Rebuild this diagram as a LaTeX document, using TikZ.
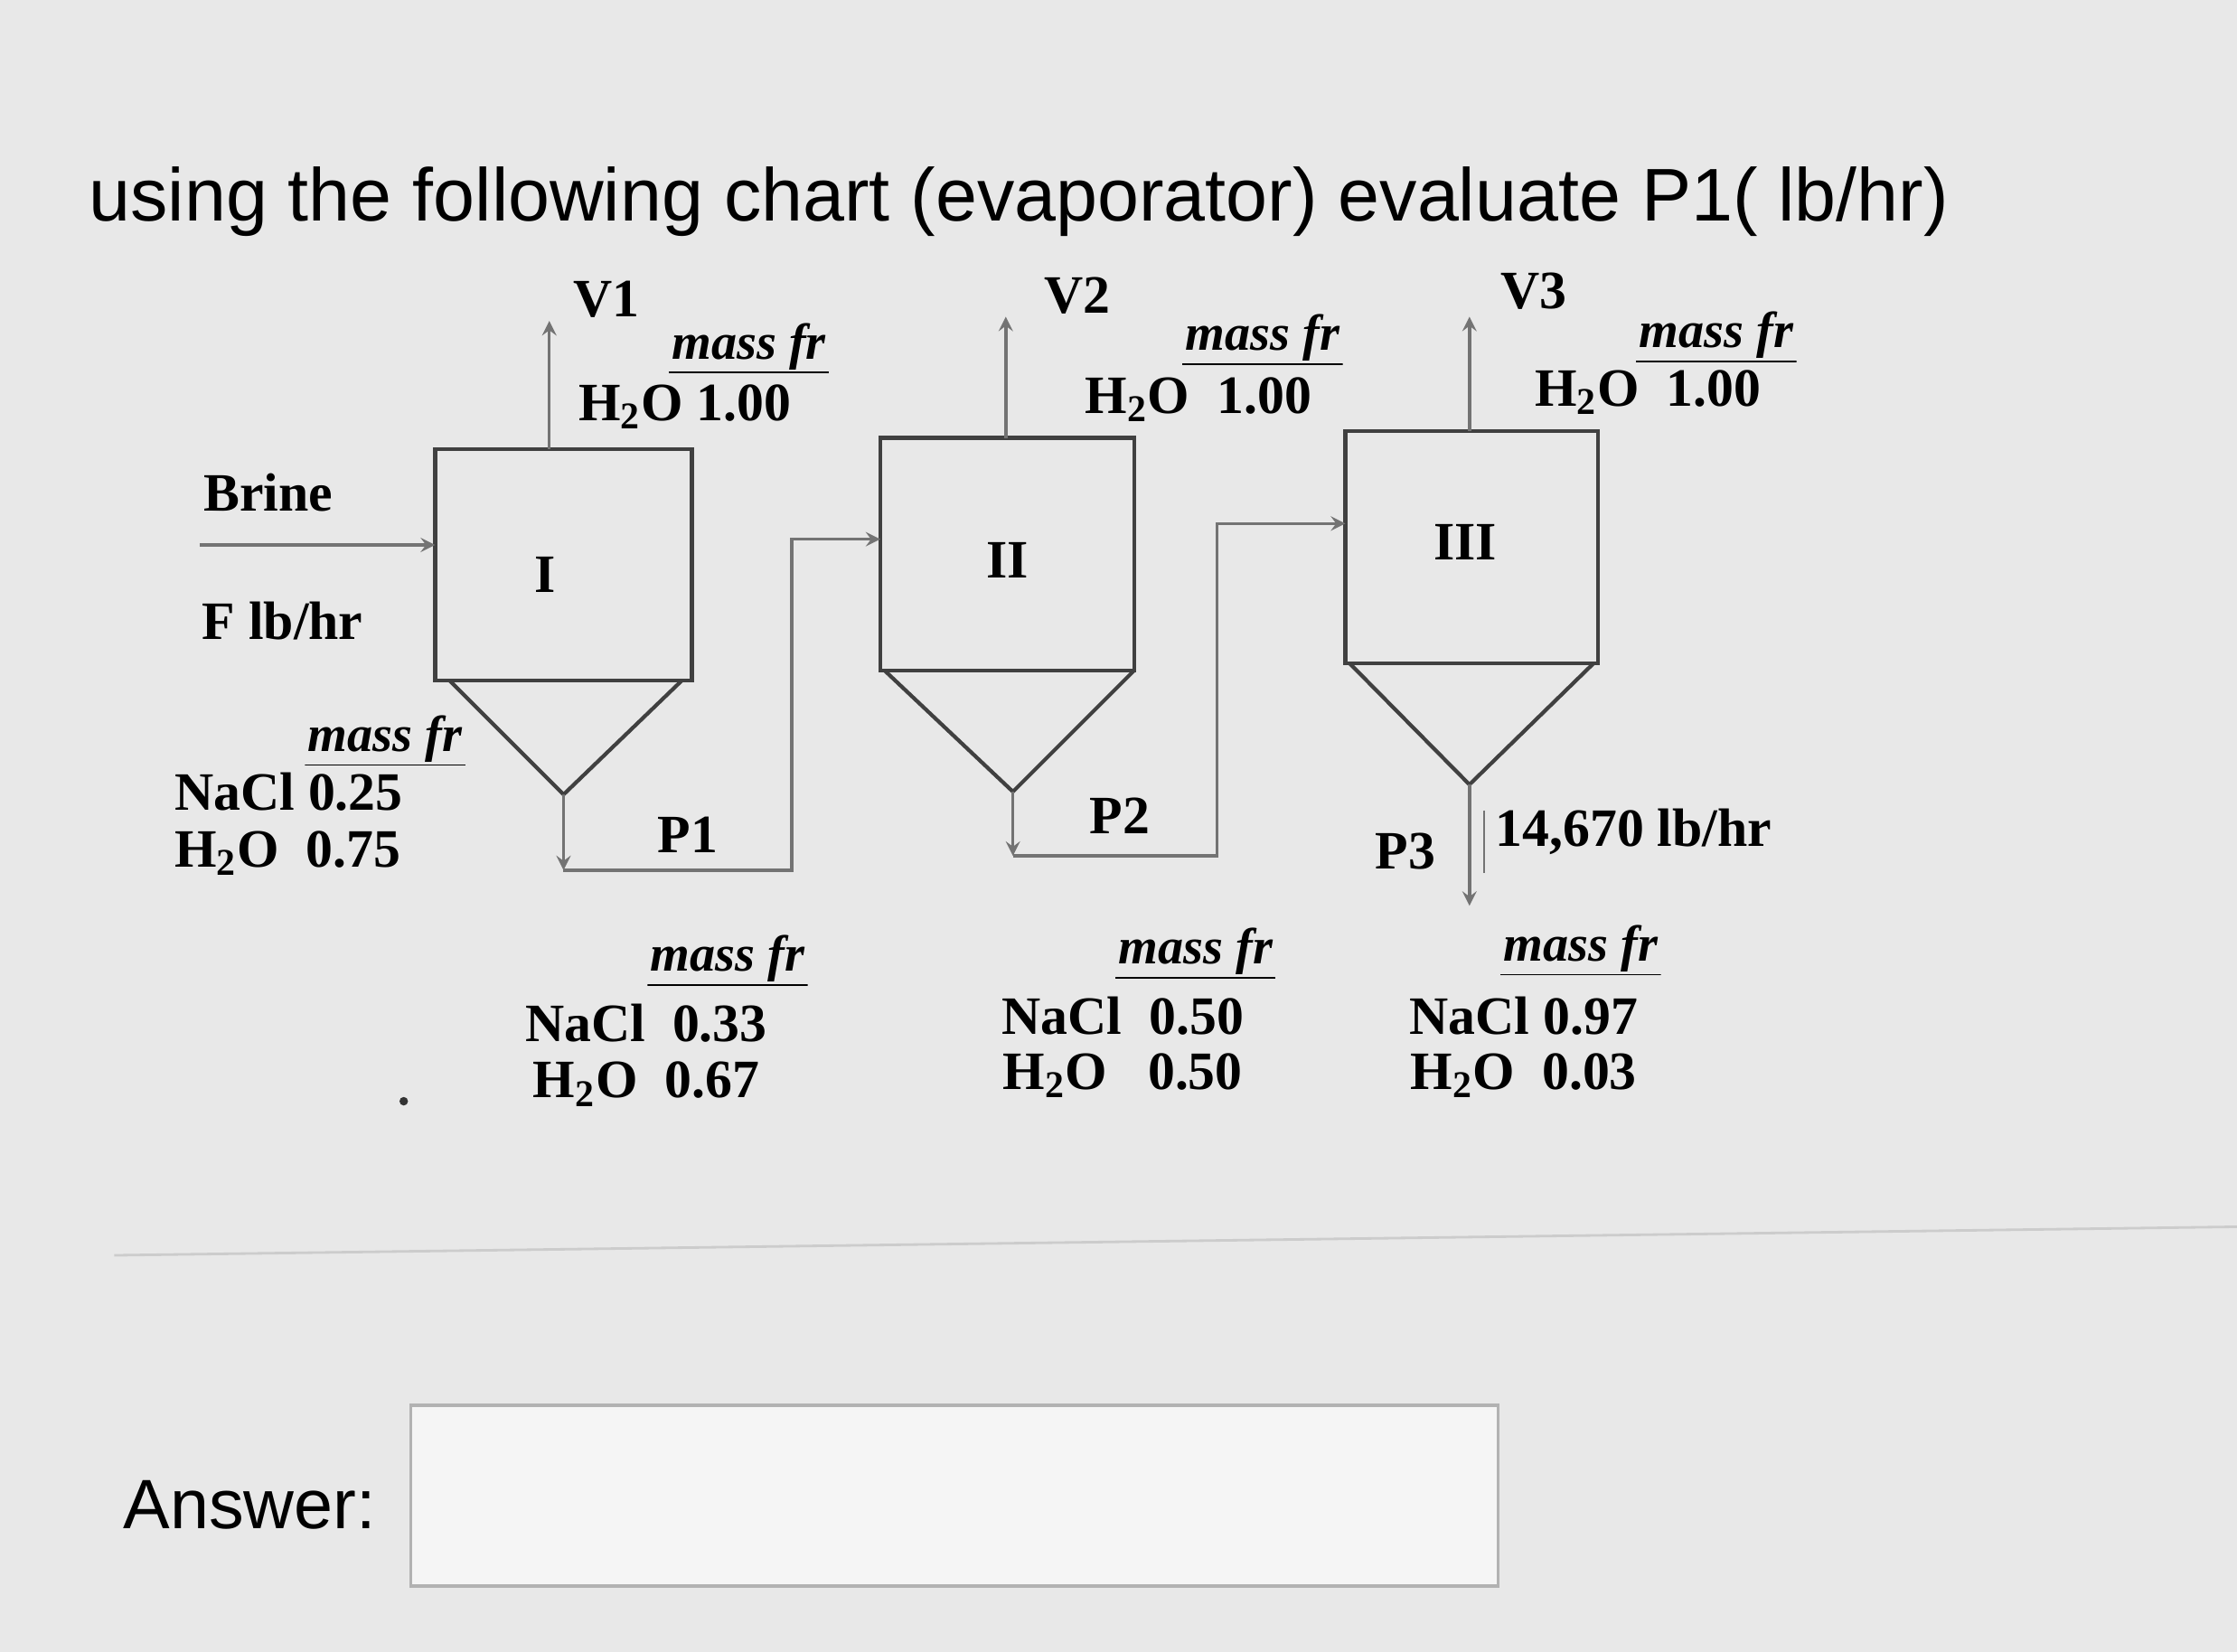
\documentclass[tikz,border=0pt]{standalone}
\usepackage{fontspec}
\setmainfont{Liberation Serif}
\newfontfamily\titlefont{Liberation Sans}
\begin{document}
\begin{tikzpicture}[x=0.015784cm,y=-0.015784cm,
  lbl/.style={font=\fontsize{17}{20}\selectfont\bfseries, inner sep=0pt},
  mf/.style={font=\fontsize{16}{19}\selectfont\bfseries\itshape, inner sep=1pt, path picture={\draw[line width=0.8pt] (path picture bounding box.south west) -- (path picture bounding box.south east);}},
  vessel/.style={draw=black!75, line width=1.2pt},
  pipe/.style={draw=black!55, line width=1pt},
  arr/.style={pipe,->,>=stealth}]
\fill[black!9] (0,0) rectangle (1568,1158);
\useasboundingbox (0,0) rectangle (1568,1158);
\node[anchor=base west, font=\titlefont\fontsize{23.5}{28}\selectfont, inner sep=0pt] (title) at (62,155) {using the following chart (evaporator) evaluate P1( lb/hr)};
% Vessel I
\coordinate (b1tl) at (305,315); \coordinate (b1br) at (485,477);
\draw[vessel] (b1tl) rectangle (b1br);
\node[lbl] (n1) at (382,403) {I};
\coordinate (c1a) at (315,477); \coordinate (c1b) at (478,477); \coordinate (ap1) at (395,557);
\draw[vessel] (c1a) -- (ap1) -- (c1b);
\coordinate (v1s) at (385,315); \coordinate (v1e) at (385,225);
\draw[arr] (v1s) -- (v1e);
\node[lbl] (V1) at (425,210) {V1};
\node[mf] (mf1) at (525,243) {mass fr};
\node[lbl] (h1) at (480,285) {H\textsubscript{2}O 1.00};
\node[lbl] (brine) at (188,345) {Brine};
\coordinate (fs) at (140,382); \coordinate (fe) at (305,382);
\draw[arr] (fs) -- (fe);
\node[lbl] (F) at (198,435) {F lb/hr};
\node[mf] (mff) at (270,518) {mass fr};
\node[lbl, anchor=west] (fn) at (122,555) {NaCl 0.25};
\node[lbl, anchor=west] (fh) at (122,598) {H\textsubscript{2}O\ \ 0.75};
% Vessel II
\coordinate (b2tl) at (617,307); \coordinate (b2br) at (795,470);
\draw[vessel] (b2tl) rectangle (b2br);
\node[lbl] (n2) at (706,393) {II};
\coordinate (c2a) at (620,470); \coordinate (c2b) at (795,470); \coordinate (ap2) at (710,555);
\draw[vessel] (c2a) -- (ap2) -- (c2b);
\coordinate (v2s) at (705,307); \coordinate (v2e) at (705,222);
\draw[arr] (v2s) -- (v2e);
\node[lbl] (V2) at (755,207) {V2};
\node[mf] (mf2) at (885,237) {mass fr};
\node[lbl] (h2) at (840,280) {H\textsubscript{2}O\ \ 1.00};
% Vessel III
\coordinate (b3tl) at (943,302); \coordinate (b3br) at (1120,465);
\draw[vessel] (b3tl) rectangle (b3br);
\node[lbl] (n3) at (1027,380) {III};
\coordinate (c3a) at (946,465); \coordinate (c3b) at (1117,465); \coordinate (ap3) at (1030,550);
\draw[vessel] (c3a) -- (ap3) -- (c3b);
\coordinate (v3s) at (1030,302); \coordinate (v3e) at (1030,222);
\draw[arr] (v3s) -- (v3e);
\node[lbl] (V3) at (1075,204) {V3};
\node[mf] (mf3) at (1203,235) {mass fr};
\node[lbl] (h3) at (1155,275) {H\textsubscript{2}O\ \ 1.00};
% P1 pipe
\coordinate (p1e) at (395,610);
\draw[arr] (ap1) -- (p1e);
\coordinate (p1r) at (555,610); \coordinate (p1u) at (555,378); \coordinate (p1t) at (617,378);
\draw[arr] (p1e) -- (p1r) -- (p1u) -- (p1t);
\node[lbl] (P1) at (482,585) {P1};
% P2 pipe
\coordinate (p2e) at (710,600);
\draw[arr] (ap2) -- (p2e);
\coordinate (p2r) at (853,600); \coordinate (p2u) at (853,367); \coordinate (p2t) at (943,367);
\draw[arr] (p2e) -- (p2r) -- (p2u) -- (p2t);
\node[lbl] (P2) at (785,572) {P2};
% P3
\coordinate (p3e) at (1030,635);
\draw[arr] (ap3) -- (p3e);
\node[lbl] (P3) at (985,597) {P3};
\coordinate (tk1) at (1040,568); \coordinate (tk2) at (1040,612);
\draw[pipe, line width=0.6pt] (tk1) -- (tk2);
\node[lbl] (flow) at (1145,583) {14,670 lb/hr};
% bottom compositions
\node[mf] (mb1) at (510,672) {mass fr};
\node[lbl] (b1n) at (453,717) {NaCl\ \ 0.33};
\node[lbl] (b1h) at (453,760) {H\textsubscript{2}O\ \ 0.67};
\node[mf] (mb2) at (838,667) {mass fr};
\node[lbl] (b2n) at (787,712) {NaCl\ \ 0.50};
\node[lbl] (b2h) at (787,754) {H\textsubscript{2}O\ \ \ 0.50};
\node[mf] (mb3) at (1108,665) {mass fr};
\node[lbl] (b3n) at (1068,712) {NaCl 0.97};
\node[lbl] (b3h) at (1068,754) {H\textsubscript{2}O\ \ 0.03};
\fill[black!80] (283,772) circle (3);
% answer
\coordinate (hl1) at (80,880); \coordinate (hl2) at (1568,860);
\draw[black!20, line width=0.8pt] (hl1) -- (hl2);
\node[font=\titlefont\fontsize{22}{26}\selectfont, inner sep=0pt] (ans) at (175,1055) {Answer:};
\coordinate (abtl) at (288,985); \coordinate (abbr) at (1050,1112);
\draw[draw=black!30, fill=black!4, line width=1pt] (abtl) rectangle (abbr);
\end{tikzpicture}
\end{document}
